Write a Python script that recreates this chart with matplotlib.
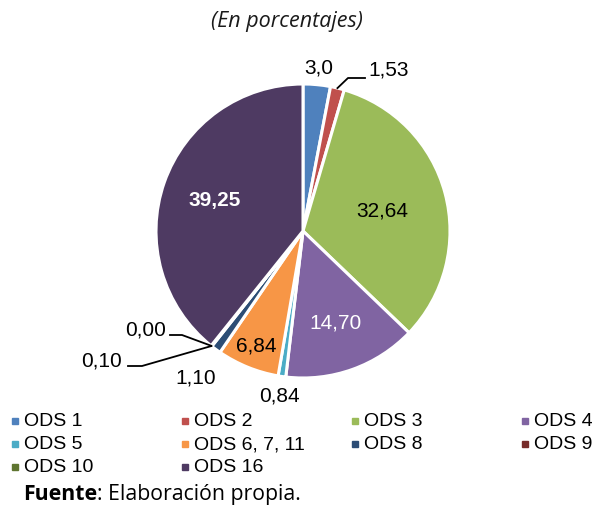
import numpy as np
import matplotlib
matplotlib.use("Agg")
import matplotlib.pyplot as plt

# share of each goal, in percent
categories = ["ODS 1", "ODS 2", "ODS 3", "ODS 4", "ODS 5",
              "ODS 6, 7, 11", "ODS 8", "ODS 9", "ODS 10", "ODS 16"]
values = [3.0, 1.53, 32.64, 14.70, 0.84, 6.84, 1.10, 0.10, 0.00, 39.25]
value_labels = ["3,0", "1,53", "32,64", "14,70", "0,84",
                "6,84", "1,10", "0,10", "0,00", "39,25"]
colors = ["#4F81BD", "#C0504D", "#9BBB59", "#8064A2", "#4BACC6",
          "#F79646", "#2C4D75", "#772C2A", "#5F7530", "#4E3A62"]

W, H = 595, 510
fig = plt.figure(figsize=(W / 100, H / 100), dpi=100)
# axes in pixel units, y measured from the bottom
ax = fig.add_axes([0, 0, 1, 1])
ax.set_aspect("equal")
ax.axis("off")

cx, cy, R = 303, H - 232, 147
wedges, _ = ax.pie(values, colors=colors, startangle=90, counterclock=False,
                   center=(cx, cy), radius=R,
                   wedgeprops=dict(edgecolor="white", linewidth=2.2))
ax.set_xlim(0, W)
ax.set_ylim(0, H)

lab_font = "Liberation Sans"
fs = 15


def polar(w, r):
    a = np.deg2rad((w.theta1 + w.theta2) / 2)
    return cx + r * R * np.cos(a), cy + r * R * np.sin(a)


# labels placed along each wedge's bisector: (radius factor, color, weight)
placement = {
    0: (1.12, "black", "normal"),
    2: (0.56, "black", "normal"),
    3: (0.66, "white", "normal"),
    4: (1.13, "black", "normal"),
    5: (0.84, "black", "normal"),
    6: (1.23, "black", "normal"),
    9: (0.64, "white", "bold"),
}
for i, (rf, col, wt) in placement.items():
    x, y = polar(wedges[i], rf)
    ax.text(x, y, value_labels[i], ha="center", va="center", fontsize=fs,
            color=col, fontweight=wt, family=lab_font)

# small slices get leader lines
x0, y0 = polar(wedges[1], 1.0)
ax.plot([x0, 348, 365], [y0, H - 79, H - 79], color="black", lw=1.3)
ax.text(368, H - 70, value_labels[1], ha="left", va="center", fontsize=fs,
        family=lab_font)

x0, y0 = polar(wedges[8], 1.0)
ax.plot([x0, 182, 170], [y0, H - 336, H - 336], color="black", lw=1.3)
ax.text(166, H - 330, value_labels[8], ha="right", va="center", fontsize=fs,
        family=lab_font)

x0, y0 = polar(wedges[7], 1.0)
ax.plot([x0, 142, 128], [y0, H - 367, H - 367], color="black", lw=1.3)
ax.text(122, H - 361, value_labels[7], ha="right", va="center", fontsize=fs,
        family=lab_font)

# legend, row by row in four columns
for i, (name, col) in enumerate(zip(categories, colors)):
    row, c = divmod(i, 4)
    lx = 15 + 170 * c
    ly = H - 422 - 23 * row
    ax.plot(lx, ly, marker="s", markersize=4, color=col, linestyle="none")
    ax.text(lx + 9, ly, name, ha="left", va="center", fontsize=14,
            family=lab_font)

fig.text(287 / W, 1 - 22 / H, "(En porcentajes)", ha="center", va="center",
         fontsize=15.5, style="italic", family="Open Sans", color="#1a1a1a")
t = fig.text(23 / W, 1 - 495 / H, "Fuente", ha="left", va="center",
             fontsize=15.3, family="Open Sans", fontweight="bold")
fig.canvas.draw()
bb = t.get_window_extent()
fig.text(bb.x1 / W, 1 - 495 / H, ": Elaboración propia.", ha="left",
         va="center", fontsize=15.3, family="Open Sans")

fig.savefig("out.png", dpi=100)
